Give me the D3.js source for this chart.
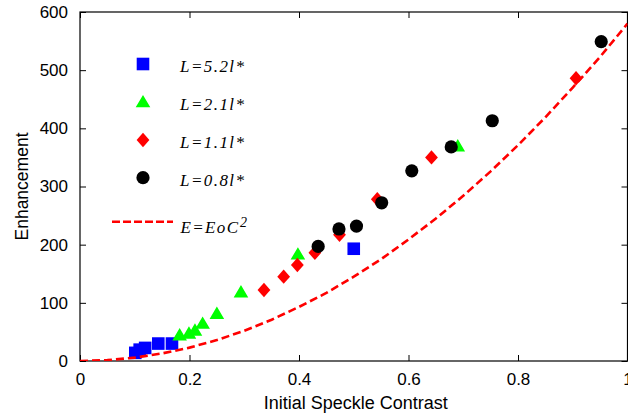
<!DOCTYPE html>
<html><head><meta charset="utf-8">
<script src="https://cdn.jsdelivr.net/npm/d3@7"></script>
<style>html,body{margin:0;padding:0;background:#fff;}svg{display:block;}</style>
</head><body>
<svg id="chart" width="628" height="415"></svg>
<script>
// ---- data ----
const seriesNames = ["L=5.2l*", "L=2.1l*", "L=1.1l*", "L=0.8l*"];
const blueC = [0.101, 0.109, 0.119, 0.143, 0.168, 0.500];
const blueE = [14, 19.5, 22.5, 30, 30, 193];
const greenC = [0.182, 0.199, 0.210, 0.224, 0.250, 0.294, 0.398, 0.690];
const greenE = [45, 48, 53, 65, 82, 119, 184, 370];
const redC = [0.336, 0.372, 0.397, 0.429, 0.474, 0.543, 0.642, 0.906];
const redE = [122, 145, 165, 186, 217, 278, 350, 486];
const blackC = [0.435, 0.473, 0.505, 0.551, 0.606, 0.678, 0.753, 0.952];
const blackE = [197, 227, 232, 272, 327, 368, 413, 549];
const fitC = [0,0.05,0.1,0.15,0.2,0.25,0.3,0.35,0.4,0.45,0.5,0.55,0.6,0.65,0.7,0.75,0.8,0.85,0.9,0.95,1];
const fitE = [0,1.5,5.8,13,23,36,52,71,93,117,145,175,209,245,284,326,371,419,470,523,580];
const xTicks = [0, 0.2, 0.4, 0.6, 0.8, 1];
const yTicks = [0, 100, 200, 300, 400, 500, 600];
const xTickLabels = ["0", "0.2", "0.4", "0.6", "0.8", "1"];
const yTickLabels = ["0", "100", "200", "300", "400", "500", "600"];

const svg = d3.select("#chart");
const L = 80, R = 627.5, T = 12, B = 361;
const x = d3.scaleLinear().domain([0, 1]).range([L, R]);
const y = d3.scaleLinear().domain([0, 600]).range([B, T]);

const sans = "'Liberation Sans', Arial, sans-serif";
const serif = "'Liberation Serif', 'Times New Roman', serif";

// marker shapes
function shapePath(type) {
  if (type === "square") { const h = 6.3; return `M${-h},${-h}H${h}V${h}H${-h}Z`; }
  if (type === "triangle") { return `M0,-7H7.2L0,-7Z M0,-6.8L7.3,5.6H-7.3Z`; }
  if (type === "diamond") { return `M0,-7.2L6.4,0L0,7.2L-6.4,0Z`; }
  return d3.arc()({innerRadius:0, outerRadius:6.6, startAngle:0, endAngle:2*Math.PI});
}
const series = [
  {c: blueC, e: blueE, type: "square", color: "#0000ff"},
  {c: greenC, e: greenE, type: "triangle", color: "#00ff00"},
  {c: redC, e: redE, type: "diamond", color: "#ff0000"},
  {c: blackC, e: blackE, type: "circle", color: "#000000"}
];

// axes box
const axG = svg.append("g");
axG.append("rect").attr("x", L).attr("y", T).attr("width", R - L).attr("height", B - T)
  .attr("fill", "none").attr("stroke", "#000").attr("stroke-width", 1.2);

const xAxis = d3.axisBottom(x).tickValues(xTicks).tickSize(-6).tickFormat((d, i) => xTickLabels[i]).tickPadding(12);
const xg = svg.append("g").attr("transform", `translate(0,${B})`).call(xAxis);
const yAxis = d3.axisLeft(y).tickValues(yTicks).tickSize(-6).tickFormat((d, i) => yTickLabels[i]).tickPadding(12);
const yg = svg.append("g").attr("transform", `translate(${L},0)`).call(yAxis);
const xTop = d3.axisTop(x).tickValues(xTicks).tickSize(-6).tickFormat("");
svg.append("g").attr("transform", `translate(0,${T})`).call(xTop);
const yRight = d3.axisRight(y).tickValues(yTicks).tickSize(-6).tickFormat("");
svg.append("g").attr("transform", `translate(${R},0)`).call(yRight);
svg.selectAll(".domain").remove();
svg.selectAll(".tick line").attr("stroke", "#000").attr("stroke-width", 1);
xg.selectAll("text").attr("font-family", sans).attr("font-size", 17).attr("fill", "#000");
yg.selectAll("text").attr("font-family", sans).attr("font-size", 17).attr("fill", "#000");

// axis labels
svg.append("text").attr("x", (L + R) / 2 + 2).attr("y", 409).attr("text-anchor", "middle")
  .attr("font-family", sans).attr("font-size", 18).text("Initial Speckle Contrast");
svg.append("text").attr("transform", `translate(28,${(T + B) / 2}) rotate(-90)`).attr("text-anchor", "middle")
  .attr("font-family", sans).attr("font-size", 17.5).text("Enhancement");

// markers
const clip = svg.append("clipPath").attr("id", "clip").append("rect")
  .attr("x", L).attr("y", T).attr("width", R - L).attr("height", B - T);
series.forEach(s => {
  svg.append("g").selectAll("path").data(s.c.map((c, i) => [c, s.e[i]])).join("path")
    .attr("d", shapePath(s.type)).attr("fill", s.color)
    .attr("transform", d => `translate(${x(d[0])},${y(d[1])})`);
});

// fit curve
const line = d3.line().x(d => x(d[0])).y(d => y(d[1]));
svg.append("path").datum(fitC.map((c, i) => [c, fitE[i]])).attr("d", line)
  .attr("fill", "none").attr("stroke", "#ff0000").attr("stroke-width", 2.6)
  .attr("stroke-dasharray", "8,4").attr("clip-path", "url(#clip)");

// legend
const legY = [64, 101.7, 140, 177.7];
series.forEach((s, i) => {
  svg.append("path").attr("d", shapePath(s.type)).attr("fill", s.color)
    .attr("transform", `translate(143,${legY[i]})`);
  svg.append("text").attr("x", 180).attr("y", legY[i] + 8).attr("font-family", serif)
    .attr("font-style", "italic").attr("font-size", 17).attr("textLength", 64)
    .attr("lengthAdjust", "spacing").text(seriesNames[i]);
});
svg.append("line").attr("x1", 112).attr("x2", 173).attr("y1", 221.7).attr("y2", 221.7)
  .attr("stroke", "#ff0000").attr("stroke-width", 2.6).attr("stroke-dasharray", "8,3");
svg.append("text").attr("x", 180.5).attr("y", 233.3).attr("font-family", serif)
  .attr("font-style", "italic").attr("font-size", 17).attr("textLength", 57.5)
  .attr("lengthAdjust", "spacing").text("E=EoC");
svg.append("text").attr("x", 240).attr("y", 227).attr("font-family", serif)
  .attr("font-style", "italic").attr("font-size", 14).text("2");
</script>
</body></html>
